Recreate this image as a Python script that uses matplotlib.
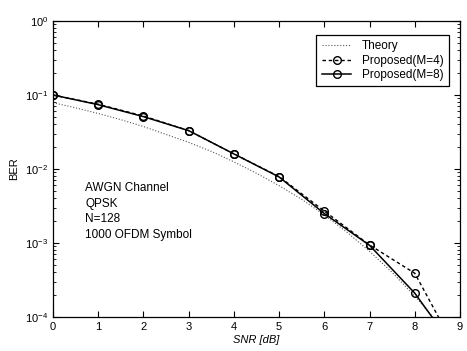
import matplotlib
matplotlib.use("Agg")
import matplotlib.pyplot as plt
import numpy as np

plt.rcParams['font.family'] = ['Liberation Sans', 'DejaVu Sans']
plt.rcParams['mathtext.default'] = 'regular'

# Data
snr_theory = [0, 0.5, 1, 1.5, 2, 2.5, 3, 3.5, 4, 4.5, 5, 5.5, 6, 6.5, 7, 7.5, 8, 8.5, 9]
ber_theory = [0.0786, 0.0671, 0.0563, 0.0464, 0.0375, 0.0293, 0.0229, 0.0173, 0.0125,
              0.00876, 0.00595, 0.00389, 0.00239, 0.00140, 0.000773, 0.000400,
              0.000191, 8.5e-5, 3.4e-5]

snr = [0, 1, 2, 3, 4, 5, 6, 7, 8, 9]
ber_m4 = [0.100, 0.075, 0.052, 0.033, 0.016, 0.0079, 0.0027, 0.00094, 0.00039, 2.9e-5]
ber_m8 = [0.100, 0.074, 0.051, 0.033, 0.016, 0.0078, 0.0025, 0.00093, 0.00021, 3.0e-5]

annot = ["AWGN Channel", "QPSK", "N=128", "1000 OFDM Symbol"]

fig = plt.figure(figsize=(4.67, 3.51), dpi=100)
ax = fig.add_axes([53/467, 1-317/351, (460-53)/467, (317-21)/351])

ax.semilogy(snr_theory, ber_theory, linestyle=':', color='#555555', linewidth=0.8,
            label='Theory')
ax.semilogy(snr, ber_m4, linestyle='--', color='black', linewidth=1.0, marker='o',
            markersize=5.5, markerfacecolor='none', markeredgewidth=1.0,
            label='Proposed(M=4)', dashes=(2.5, 2))
ax.semilogy(snr, ber_m8, linestyle='-', color='black', linewidth=1.1, marker='o',
            markersize=5.5, markerfacecolor='none', markeredgewidth=1.0,
            label='Proposed(M=8)')

ax.set_xlim(0, 9)
ax.set_ylim(1e-4, 1)
ax.set_xticks(range(0, 10))
ax.tick_params(which='both', direction='in', top=True, right=True, labelsize=8)
ax.tick_params(which='major', length=4)
ax.tick_params(which='minor', length=2)
for s in ax.spines.values():
    s.set_linewidth(0.9)

ax.set_xlabel('SNR [dB]', fontsize=8, style='italic', labelpad=2)
ax.set_ylabel('BER', fontsize=8, labelpad=4)

ys = [188, 204, 219, 235]
for t, yp in zip(annot, ys):
    ax.text(85/467, 1-yp/351, t, transform=fig.transFigure, fontsize=8.5,
            va='center', ha='left')

leg = ax.legend(loc='upper right', bbox_to_anchor=(449/467, 1-35/351),
                bbox_transform=fig.transFigure, fontsize=8.5, frameon=True,
                fancybox=False, edgecolor='black', framealpha=1,
                handlelength=2.5, borderpad=0.45, labelspacing=0.2, borderaxespad=0,
                handletextpad=0.9)
leg.get_frame().set_linewidth(0.9)

fig.savefig('out.png', dpi=100)
